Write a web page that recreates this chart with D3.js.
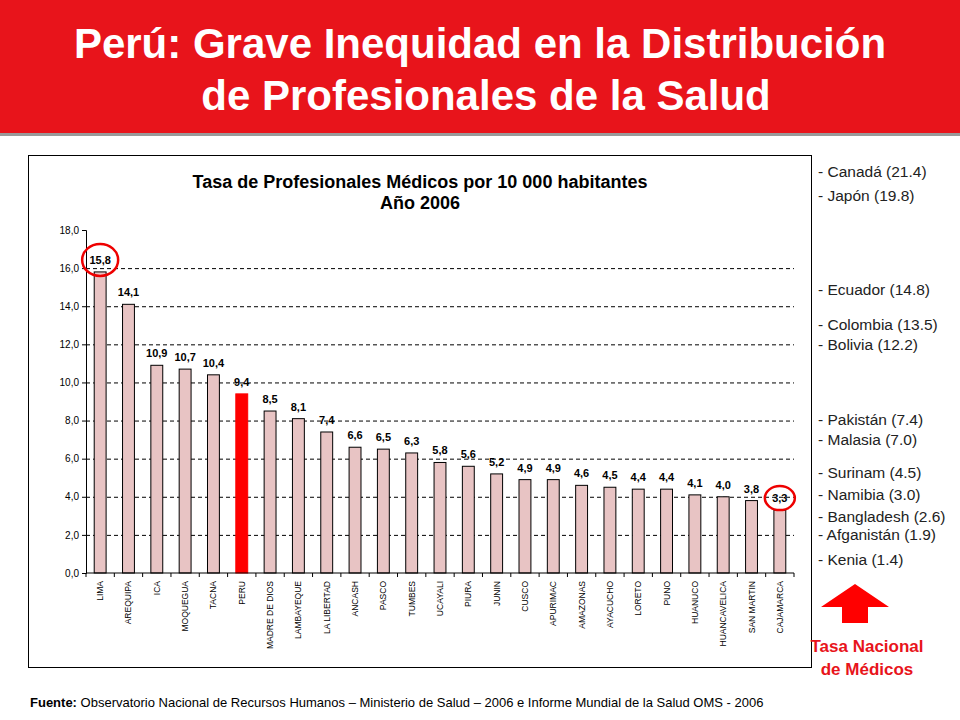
<!DOCTYPE html>
<html><head><meta charset="utf-8">
<script src="https://cdn.jsdelivr.net/npm/d3@7"></script>
<style>body{margin:0;background:#fff}svg{display:block}</style>
</head><body><svg id="c" width="960" height="720"></svg>
<script>
const regions=["LIMA","AREQUIPA","ICA","MOQUEGUA","TACNA","PERU","MADRE DE DIOS","LAMBAYEQUE","LA LIBERTAD","ANCASH","PASCO","TUMBES","UCAYALI","PIURA","JUNIN","CUSCO","APURIMAC","AMAZONAS","AYACUCHO","LORETO","PUNO","HUANUCO","HUANCAVELICA","SAN MARTIN","CAJAMARCA"];
const values=[15.8,14.1,10.9,10.7,10.4,9.4,8.5,8.1,7.4,6.6,6.5,6.3,5.8,5.6,5.2,4.9,4.9,4.6,4.5,4.4,4.4,4.1,4.0,3.8,3.3];
const yTicks=[0,2,4,6,8,10,12,14,16,18];
const countries=["Canadá (21.4)","Japón (19.8)","Ecuador (14.8)","Colombia (13.5)","Bolivia (12.2)","Pakistán (7.4)","Malasia (7.0)","Surinam (4.5)","Namibia (3.0)","Bangladesh (2.6)","Afganistán (1.9)","Kenia (1.4)"];
const countryY=[172,196,290,325,345,420,440,473,495,517,535,560];

const svg=d3.select("#c");
const fmt=d=>d.toFixed(1).replace(".",",");
svg.append("rect").attr("x",0).attr("y",0).attr("width",960).attr("height",135).attr("fill","#e8141b");
svg.append("rect").attr("x",0).attr("y",133).attr("width",960).attr("height",3).attr("fill","#999");
svg.append("text").attr("x",480).attr("y",58).attr("text-anchor","middle").attr("font-family","Liberation Sans, Arial").attr("font-weight","bold").attr("font-size",42).attr("fill","#fff").text("Perú: Grave Inequidad en la Distribución");
svg.append("text").attr("x",486).attr("y",110).attr("text-anchor","middle").attr("font-family","Liberation Sans, Arial").attr("font-weight","bold").attr("font-size",42).attr("fill","#fff").text("de Profesionales de la Salud");
svg.append("rect").attr("x",28.5).attr("y",155.5).attr("width",783).attr("height",512).attr("fill","#fff").attr("stroke","#000");
svg.append("text").attr("x",420).attr("y",188).attr("text-anchor","middle").attr("font-family","Liberation Sans, Arial").attr("font-weight","bold").attr("font-size",18).text("Tasa de Profesionales Médicos por 10 000 habitantes");
svg.append("text").attr("x",420).attr("y",209).attr("text-anchor","middle").attr("font-family","Liberation Sans, Arial").attr("font-weight","bold").attr("font-size",18).text("Año 2006");

const x=d3.scaleBand().domain(regions).range([86,794]).paddingInner(0.58).paddingOuter(0.29);
const y=d3.scaleLinear().domain([0,18]).range([573,230]);
const g=svg.append("g");
g.selectAll("line.grid").data(yTicks.filter(d=>d>0 && d<18)).join("line").attr("x1",86).attr("x2",794).attr("y1",d=>y(d)+.5).attr("y2",d=>y(d)+.5).attr("stroke","#000").attr("stroke-dasharray","4,3");
g.selectAll("rect.bar").data(values).join("rect").attr("x",(d,i)=>x(regions[i])).attr("width",x.bandwidth()).attr("y",d=>y(d)).attr("height",d=>y(0)-y(d))
 .attr("fill",(d,i)=>regions[i]==="PERU"?"#ff0000":"#e8c4c4").attr("stroke",(d,i)=>regions[i]==="PERU"?"#ff0000":"#000").attr("stroke-width",1);
g.selectAll("text.v").data(values).join("text").attr("x",(d,i)=>x(regions[i])+x.bandwidth()/2).attr("y",d=>y(d)-8).attr("text-anchor","middle").attr("font-family","Liberation Sans, Arial").attr("font-weight","bold").attr("font-size",11).text(fmt);
const ya=svg.append("g").attr("transform","translate(86,0)").call(d3.axisLeft(y).tickValues(yTicks).tickFormat(fmt).tickSize(4));
ya.selectAll("text").attr("font-family","Liberation Sans, Arial").attr("font-size",10).attr("fill","#000");
ya.select(".domain").attr("stroke","#000");
const xa=svg.append("g").attr("transform","translate(0,573)").call(d3.axisBottom(x).tickSize(0));
xa.select(".domain").attr("d","M86,0H794");
xa.selectAll(".tick text").attr("transform","rotate(-90)").attr("text-anchor","end").attr("x",-8).attr("y",0).attr("dy","0.35em").attr("font-family","Liberation Sans, Arial").attr("font-size",8.5).attr("fill","#000");
svg.append("g").selectAll("line").data(d3.range(regions.length+1)).join("line").attr("x1",i=>86+i*(708/regions.length)).attr("x2",i=>86+i*(708/regions.length)).attr("y1",573).attr("y2",577).attr("stroke","#000");
[0,regions.length-1].forEach(i=>{svg.append("ellipse").attr("cx",x(regions[i])+x.bandwidth()/2).attr("cy",y(values[i])-12).attr("rx",i===0?18:15).attr("ry",i===0?16:12).attr("fill","none").attr("stroke","#e00").attr("stroke-width",2.5);});
svg.append("g").selectAll("text").data(countries).join("text").attr("x",818).attr("y",(d,i)=>countryY[i]+5).attr("font-family","Liberation Sans, Arial").attr("font-size",15.5).attr("fill","#222").text(d=>"- "+d);
svg.append("path").attr("d","M821,607 L855,584 L889,607 L868,607 L868,623 L842,623 L842,607 Z").attr("fill","#ff0000");
svg.append("text").attr("x",867).attr("y",652).attr("text-anchor","middle").attr("font-family","Liberation Sans Narrow, Arial").attr("font-weight","bold").attr("font-size",17).attr("fill","#e8141b").text("Tasa Nacional");
svg.append("text").attr("x",867).attr("y",675).attr("text-anchor","middle").attr("font-family","Liberation Sans Narrow, Arial").attr("font-weight","bold").attr("font-size",17).attr("fill","#e8141b").text("de Médicos");
const f=svg.append("text").attr("x",30).attr("y",707).attr("font-family","Liberation Sans, Arial").attr("font-size",13);
f.append("tspan").attr("font-weight","bold").text("Fuente: ");
f.append("tspan").text("Observatorio Nacional de Recursos Humanos – Ministerio de Salud – 2006 e Informe Mundial de la Salud OMS - 2006");
</script></body></html>
